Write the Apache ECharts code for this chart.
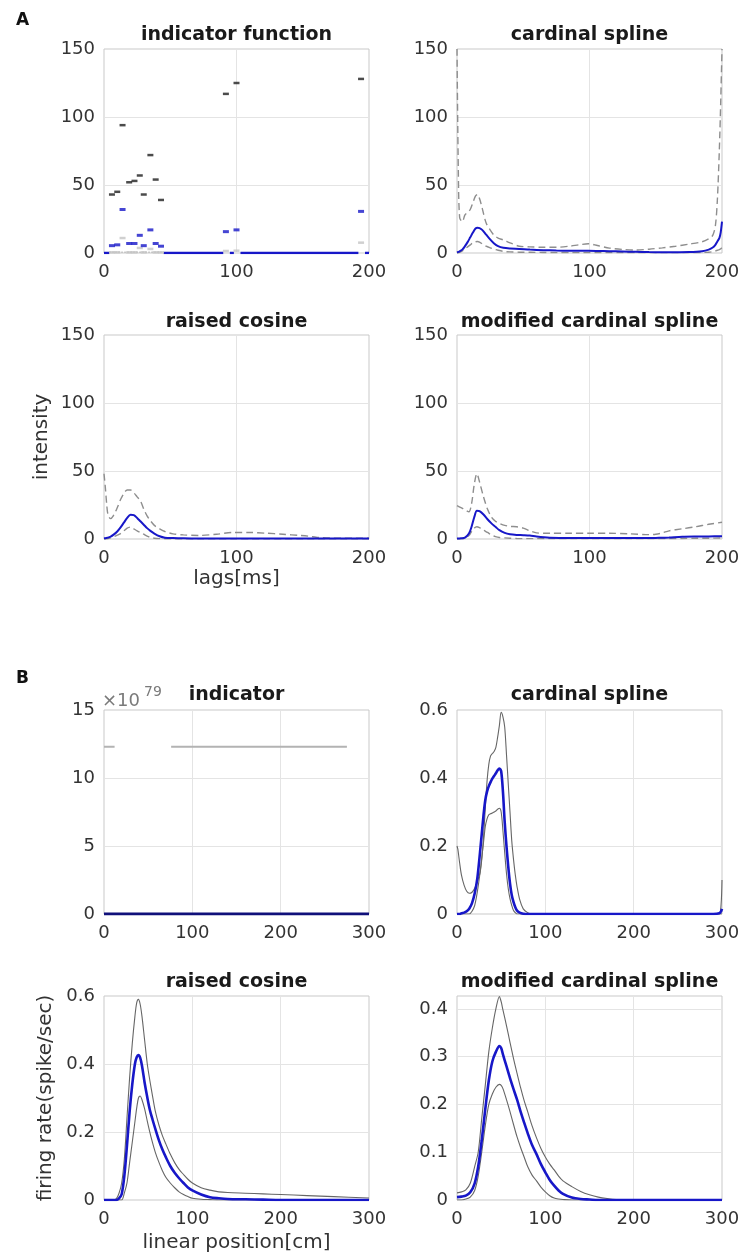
<!DOCTYPE html>
<html><head><meta charset="utf-8">
<script src="https://cdn.jsdelivr.net/npm/echarts@6/dist/echarts.min.js"></script>
<style>html,body{margin:0;padding:0;background:#fff}#c{width:743px;height:1256px}</style>
</head><body><div id="c"></div><script>
// ---------- Panel A1: indicator function (dashes) ----------
const indLags  = [6, 10, 14, 19, 23, 27, 30, 35, 39, 43, 92, 100, 194];
const indUpper = [43, 45, 94, 52, 53, 57, 43, 72, 54, 39, 117, 125, 128];
const indMean  = [5.4, 6, 32, 7, 7, 13, 5.4, 17, 7, 5, 15.7, 17, 30.6];
const indLower = [0.5, 0.5, 11, 0.5, 0.5, 3.7, 0.5, 3, 0.5, 0.5, 1.5, 1.7, 7.6];
const indMeanZeroSegs = [[0, 4], [45, 90], [95, 98], [103, 192], [197, 200]];
const indLowerSegs = [[4, 45]];

// ---------- Panel A2: cardinal spline ----------
const csLags  = [0, 1, 2, 4, 6, 8, 10, 12, 14, 15.5, 17, 19, 22, 25, 28, 31, 35, 40, 47, 55, 65, 75, 85, 92, 99, 106, 115, 125, 135, 145, 155, 165, 175, 185, 190, 193, 195, 196.5, 198, 199, 200];
const csUpper = [150, 60, 26, 23, 28, 30, 32, 37, 42, 43, 40, 33, 22, 17, 13, 11, 9.6, 7.5, 5, 4.5, 4.2, 4.2, 5, 6, 6.8, 5.5, 3.6, 2.6, 2.2, 2.8, 3.8, 5, 6.5, 8.3, 10.5, 13, 20, 39, 76, 110, 150];
const csMean  = [0.5, 0.8, 1.2, 2.5, 5, 8, 11.5, 15, 18, 18.6, 18.3, 17, 13.5, 10, 7, 5, 3.8, 3.3, 3, 2.5, 2.1, 1.8, 1.7, 1.6, 1.6, 1.5, 1.3, 1.1, 0.9, 0.7, 0.6, 0.6, 0.7, 1.3, 2.5, 4, 6, 8.5, 11, 15, 23];
const csLower = [0, 0.2, 0.5, 1.5, 3, 4.5, 6, 7.5, 8.3, 8.5, 8, 6.8, 5, 3.8, 2.8, 2, 1.2, 0.8, 0.6, 0.5, 0.4, 0.3, 0.3, 0.3, 0.3, 0.3, 0.3, 0.3, 0.3, 0.3, 0.3, 0.3, 0.3, 0.4, 0.6, 1, 1.5, 2, 2.5, 3, 4];

// ---------- Panel A3: raised cosine ----------
const rcLags  = [0, 1, 2, 3, 5, 7, 10, 12.5, 15, 17.5, 20, 22.5, 25, 27.5, 30, 32.5, 35, 38, 42, 46, 52, 60, 72, 85, 97, 110, 122, 135, 148, 155, 160, 165, 170, 180, 190, 200];
const rcUpper = [48, 38, 26, 18, 15, 17, 23, 29, 33.5, 36, 36, 34, 31, 28, 22, 17, 13.5, 10, 7.5, 5.5, 3.8, 3, 2.6, 3.5, 4.8, 4.8, 4.3, 3.5, 2.6, 2, 1.3, 0.9, 0.7, 0.6, 0.5, 0.5];
const rcMean  = [0.5, 0.6, 0.8, 1, 1.8, 3, 5.5, 8.5, 12, 15.5, 17.8, 17.5, 15.5, 13, 10.5, 8, 6, 4, 2, 1, 0.7, 0.5, 0.4, 0.4, 0.4, 0.4, 0.3, 0.3, 0.3, 0.3, 0.3, 0.3, 0.3, 0.3, 0.3, 0.3];
const rcLower = [0, 0, 0.1, 0.3, 0.8, 1.5, 2.8, 4, 6, 8, 8.8, 7.5, 6, 4.8, 3.5, 2.2, 1.2, 0.6, 0.3, 0.2, 0.1, 0.1, 0.1, 0.1, 0.1, 0.1, 0.1, 0.1, 0.1, 0.1, 0.1, 0.1, 0.1, 0.1, 0.1, 0.1];

// ---------- Panel A4: modified cardinal spline ----------
const mcLags  = [0, 3, 6, 9, 11, 13, 15, 17, 20, 23, 26, 29, 32, 36, 40, 45, 50, 55, 60, 70, 85, 100, 115, 130, 145, 150, 155, 160, 170, 180, 190, 200];
const mcUpper = [24.5, 23, 21.5, 20, 26, 40, 48, 42, 31, 22, 16, 13, 11.5, 10, 9.3, 9, 8, 6, 4.5, 4.2, 4.2, 4.2, 4.2, 3.8, 3.2, 3.5, 4.5, 6, 7.5, 9, 10.8, 12.3];
const mcMean  = [0.3, 0.5, 1, 4, 9, 16, 20.8, 20.5, 18, 14.5, 11.5, 9, 6.5, 4.5, 3.5, 3, 2.8, 2.5, 1.8, 1, 0.7, 0.7, 0.7, 0.7, 0.7, 0.8, 0.9, 1.1, 1.6, 1.8, 1.9, 2];
const mcLower = [0, 0.1, 0.5, 2.5, 5.5, 8, 9, 8.3, 6.5, 4.8, 3, 1.8, 1.1, 0.8, 0.6, 0.4, 0.3, 0.3, 0.3, 0.3, 0.3, 0.3, 0.3, 0.3, 0.3, 0.3, 0.3, 0.3, 0.4, 0.5, 0.6, 0.7];

// ---------- Panel B1: indicator (x10^79) ----------
const bIndUpperLevel = 12.3;
const bIndUpperSegs = [[0, 12], [76, 275]];
const bIndMeanSegs = [[0, 300]];

// ---------- Panel B2: cardinal spline ----------
const bcsPos   = [0, 1, 3, 5, 8, 11, 14, 17, 20, 23, 26, 28, 30, 32, 34, 36, 38, 40, 42, 44, 46, 48, 50, 52, 54, 56, 58, 60, 62, 64, 66, 68, 71, 75, 80, 85, 100, 150, 200, 250, 290, 297, 299, 300];
const bcsUpper = [0.2, 0.19, 0.15, 0.115, 0.085, 0.067, 0.061, 0.064, 0.076, 0.095, 0.12, 0.16, 0.225, 0.31, 0.39, 0.44, 0.465, 0.472, 0.478, 0.49, 0.52, 0.555, 0.593, 0.58, 0.55, 0.47, 0.384, 0.3, 0.215, 0.16, 0.115, 0.08, 0.042, 0.015, 0.004, 0, 0, 0, 0, 0, 0, 0.001, 0.03, 0.1];
const bcsMean  = [0, 0, 0, 0.002, 0.004, 0.008, 0.016, 0.032, 0.06, 0.105, 0.18, 0.235, 0.29, 0.335, 0.36, 0.376, 0.388, 0.398, 0.406, 0.414, 0.423, 0.428, 0.42, 0.36, 0.27, 0.2, 0.14, 0.09, 0.055, 0.035, 0.02, 0.01, 0.004, 0.001, 0, 0, 0, 0, 0, 0, 0, 0.002, 0.008, 0.015];
const bcsLower = [0, 0, 0, 0, 0, 0, 0, 0.008, 0.025, 0.065, 0.12, 0.165, 0.21, 0.257, 0.28, 0.292, 0.295, 0.297, 0.3, 0.303, 0.308, 0.311, 0.3, 0.245, 0.18, 0.12, 0.075, 0.045, 0.025, 0.01, 0.004, 0, 0, 0, 0, 0, 0, 0, 0, 0, 0, 0, 0, 0];

// ---------- Panel B3: raised cosine ----------
const brcPos   = [0, 5, 10, 14, 17, 20, 23, 26, 29, 32, 35, 37, 39, 41, 43, 46, 49, 52, 55, 58, 62, 66, 70, 75, 80, 85, 90, 95, 100, 110, 120, 130, 140, 160, 180, 200, 230, 260, 300];
const brcUpper = [0, 0, 0, 0.004, 0.02, 0.05, 0.12, 0.24, 0.36, 0.46, 0.54, 0.58, 0.59, 0.575, 0.54, 0.47, 0.4, 0.35, 0.305, 0.262, 0.222, 0.19, 0.165, 0.135, 0.11, 0.09, 0.075, 0.061, 0.05, 0.036, 0.029, 0.024, 0.022, 0.02, 0.018, 0.016, 0.013, 0.01, 0.006];
const brcMean  = [0, 0, 0, 0, 0.005, 0.017, 0.07, 0.16, 0.26, 0.34, 0.4, 0.42, 0.426, 0.418, 0.395, 0.345, 0.302, 0.264, 0.236, 0.21, 0.177, 0.149, 0.126, 0.1, 0.08, 0.064, 0.05, 0.037, 0.028, 0.016, 0.008, 0.005, 0.003, 0.002, 0.001, 0, 0, 0, 0];
const brcLower = [0, 0, 0, 0, 0, 0, 0.02, 0.05, 0.11, 0.17, 0.23, 0.27, 0.3, 0.306, 0.295, 0.268, 0.232, 0.198, 0.168, 0.141, 0.112, 0.087, 0.067, 0.05, 0.036, 0.024, 0.016, 0.01, 0.005, 0.002, 0.001, 0, 0, 0, 0, 0, 0, 0, 0];

// ---------- Panel B4: modified cardinal spline ----------
const bmcPos   = [0, 5, 10, 15, 20, 24, 28, 32, 36, 40, 44, 48, 50, 52, 56, 60, 64, 68, 72, 76, 80, 85, 90, 95, 100, 105, 110, 115, 120, 130, 140, 150, 160, 170, 180, 200, 250, 300];
const bmcUpper = [0.015, 0.017, 0.021, 0.035, 0.07, 0.1, 0.17, 0.24, 0.31, 0.36, 0.4, 0.426, 0.415, 0.398, 0.365, 0.33, 0.296, 0.265, 0.235, 0.208, 0.185, 0.155, 0.13, 0.108, 0.09, 0.075, 0.063, 0.05, 0.04, 0.028, 0.018, 0.011, 0.006, 0.003, 0.001, 0, 0, 0];
const bmcMean  = [0.006, 0.007, 0.009, 0.016, 0.035, 0.07, 0.125, 0.19, 0.25, 0.29, 0.31, 0.322, 0.318, 0.305, 0.28, 0.255, 0.232, 0.21, 0.185, 0.162, 0.14, 0.115, 0.096, 0.075, 0.058, 0.042, 0.03, 0.02, 0.013, 0.005, 0.002, 0.001, 0, 0, 0, 0, 0, 0];
const bmcLower = [0, 0, 0.002, 0.006, 0.02, 0.05, 0.1, 0.155, 0.2, 0.222, 0.236, 0.242, 0.24, 0.233, 0.21, 0.185, 0.158, 0.132, 0.11, 0.09, 0.07, 0.052, 0.04, 0.027, 0.017, 0.009, 0.004, 0.002, 0.001, 0, 0, 0, 0, 0, 0, 0, 0, 0];

// ---------- texts ----------
const panelTitles = ['indicator function', 'cardinal spline', 'raised cosine', 'modified cardinal spline',
                     'indicator', 'cardinal spline', 'raised cosine', 'modified cardinal spline'];
const panelLetters = ['A', 'B'];

// ---------- build ----------
const FONT = "'DejaVu Sans', sans-serif";
const TXT = '#333333';
const BLUE = '#1717c8';
const pairs = (xs, ys) => xs.map((x, i) => [x, ys[i]]);
const segData = (segs, level) => {
  const out = [];
  segs.forEach(([a, b]) => { out.push([a, level], [b, level], [b, null]); });
  return out;
};

const colL = 104, colR = 457, W = 265, H = 204;
const rowTops = [49, 335, 710, 996];
const grids = [];
const pos = [[colL, rowTops[0]], [colR, rowTops[0]], [colL, rowTops[1]], [colR, rowTops[1]],
             [colL, rowTops[2]], [colR, rowTops[2]], [colL, rowTops[3]], [colR, rowTops[3]]];
pos.forEach(([l, t]) => grids.push({left: l, top: t, width: W, height: H, show: true,
  borderColor: '#c9c9c9', borderWidth: 1, backgroundColor: 'transparent'}));

const axisLabel = {fontSize: 18, fontFamily: FONT, color: TXT};
const split = {show: true, showMinLine: false, showMaxLine: false, lineStyle: {color: '#e4e4e4', width: 1}};
function xAx(gi, max, extra) {
  return Object.assign({type: 'value', gridIndex: gi, min: 0, max: max, interval: 100,
    axisLine: {show: false}, axisTick: {show: false}, splitLine: split,
    axisLabel: Object.assign({margin: 10}, axisLabel)}, extra || {});
}
function yAx(gi, max, interval, extra) {
  return Object.assign({type: 'value', gridIndex: gi, min: 0, max: max, interval: interval,
    axisLine: {show: false}, axisTick: {show: false}, splitLine: split,
    axisLabel: Object.assign({margin: 9}, axisLabel)}, extra || {});
}
const nameStyle = {fontSize: 20, fontFamily: FONT, color: TXT};

const xAxes = [
  xAx(0, 200), xAx(1, 200),
  xAx(2, 200, {name: 'lags[ms]', nameLocation: 'middle', nameGap: 30, nameTextStyle: nameStyle}),
  xAx(3, 200),
  xAx(4, 300), xAx(5, 300),
  xAx(6, 300, {name: 'linear position[cm]', nameLocation: 'middle', nameGap: 33, nameTextStyle: nameStyle}),
  xAx(7, 300)
];
const yAxes = [
  yAx(0, 150, 50), yAx(1, 150, 50),
  yAx(2, 150, 50, {name: 'intensity', nameLocation: 'middle', nameGap: 52, nameRotate: 90, nameTextStyle: nameStyle}),
  yAx(3, 150, 50),
  yAx(4, 15, 5), yAx(5, 0.6, 0.2),
  yAx(6, 0.6, 0.2, {name: 'firing rate(spike/sec)', nameLocation: 'middle', nameGap: 48, nameRotate: 90, nameTextStyle: nameStyle}),
  yAx(7, 0.427, 0.1, {axisLabel: Object.assign({margin: 9, showMaxLabel: false}, axisLabel)})
];

const series = [];
function line(gi, data, color, width, dashed, z) {
  series.push({type: 'line', xAxisIndex: gi, yAxisIndex: gi, data: data, showSymbol: false, symbol: 'none',
    smooth: 0.3, animation: false, z: z || 2,
    lineStyle: {color: color, width: width, type: dashed ? [7, 4] : 'solid'}});
}
function straight(gi, data, color, width, z, type) {
  series.push({type: 'line', xAxisIndex: gi, yAxisIndex: gi, data: data, showSymbol: false, symbol: 'none',
    animation: false, z: z || 2, lineStyle: {color: color, width: width, type: type || 'solid'}});
}
function dashes(gi, xs, ys, color, z, h) {
  series.push({type: 'scatter', xAxisIndex: gi, yAxisIndex: gi, data: pairs(xs, ys), symbol: 'rect',
    symbolSize: [6, h || 2.5], animation: false, z: z || 3, itemStyle: {color: color}});
}

// A1
straight(0, segData(indLowerSegs, 0.5), '#bdbdbd', 1.5, 2, 'dotted');
straight(0, segData(indMeanZeroSegs, 0), BLUE, 2.5, 3);
dashes(0, indLags, indLower, '#c4c4c4', 3, 2.5);
dashes(0, indLags, indUpper, '#1e1e1e', 4, 2.5);
dashes(0, indLags, indMean, BLUE, 5, 3);
// A2
line(1, pairs(csLags, csLower), '#8e8e8e', 1.4, true);
line(1, pairs(csLags, csUpper), '#8e8e8e', 1.4, true);
line(1, pairs(csLags, csMean), BLUE, 2, false, 4);
// A3
line(2, pairs(rcLags, rcLower), '#8e8e8e', 1.4, true);
line(2, pairs(rcLags, rcUpper), '#8e8e8e', 1.4, true);
line(2, pairs(rcLags, rcMean), BLUE, 2, false, 4);
// A4
line(3, pairs(mcLags, mcLower), '#8e8e8e', 1.4, true);
line(3, pairs(mcLags, mcUpper), '#8e8e8e', 1.4, true);
line(3, pairs(mcLags, mcMean), BLUE, 2, false, 4);
// B1
straight(4, segData(bIndUpperSegs, bIndUpperLevel), '#b3b3b3', 2);
straight(4, segData(bIndMeanSegs, 0), '#10107a', 3, 4);
// B2
line(5, pairs(bcsPos, bcsUpper), '#666666', 1.1, false);
line(5, pairs(bcsPos, bcsLower), '#666666', 1.1, false);
line(5, pairs(bcsPos, bcsMean), BLUE, 2.6, false, 4);
// B3
line(6, pairs(brcPos, brcUpper), '#666666', 1.1, false);
line(6, pairs(brcPos, brcLower), '#666666', 1.1, false);
line(6, pairs(brcPos, brcMean), BLUE, 2.6, false, 4);
// B4
line(7, pairs(bmcPos, bmcUpper), '#666666', 1.1, false);
line(7, pairs(bmcPos, bmcLower), '#666666', 1.1, false);
line(7, pairs(bmcPos, bmcMean), BLUE, 2.6, false, 4);

// titles & labels as graphic text
const graphics = [];
const titleY = [35, 322, 695, 982];
panelTitles.forEach((t, i) => {
  const [l] = pos[i];
  graphics.push({type: 'text', x: l + W / 2, y: titleY[Math.floor(i / 2)],
    style: {text: t, fontSize: 19, fontWeight: 'bold', fontFamily: FONT, fill: '#1a1a1a', align: 'center', verticalAlign: 'middle'}});
});
graphics.push({type: 'text', x: 16, y: 21, style: {text: panelLetters[0], fontSize: 17, fontWeight: 'bold', fontFamily: FONT, fill: '#111', align: 'left', verticalAlign: 'middle'}});
graphics.push({type: 'text', x: 16, y: 679, style: {text: panelLetters[1], fontSize: 17, fontWeight: 'bold', fontFamily: FONT, fill: '#111', align: 'left', verticalAlign: 'middle'}});
graphics.push({type: 'text', x: 102, y: 701, style: {text: '×10', fontSize: 18, fontFamily: FONT, fill: '#7a7a7a', align: 'left', verticalAlign: 'middle'}});
graphics.push({type: 'text', x: 144, y: 692, style: {text: '79', fontSize: 14, fontFamily: FONT, fill: '#7a7a7a', align: 'left', verticalAlign: 'middle'}});

const chart = echarts.init(document.getElementById('c'), null, {renderer: 'canvas'});
chart.setOption({
  animation: false,
  backgroundColor: '#ffffff',
  grid: grids, xAxis: xAxes, yAxis: yAxes, series: series, graphic: graphics
});
</script></body></html>
